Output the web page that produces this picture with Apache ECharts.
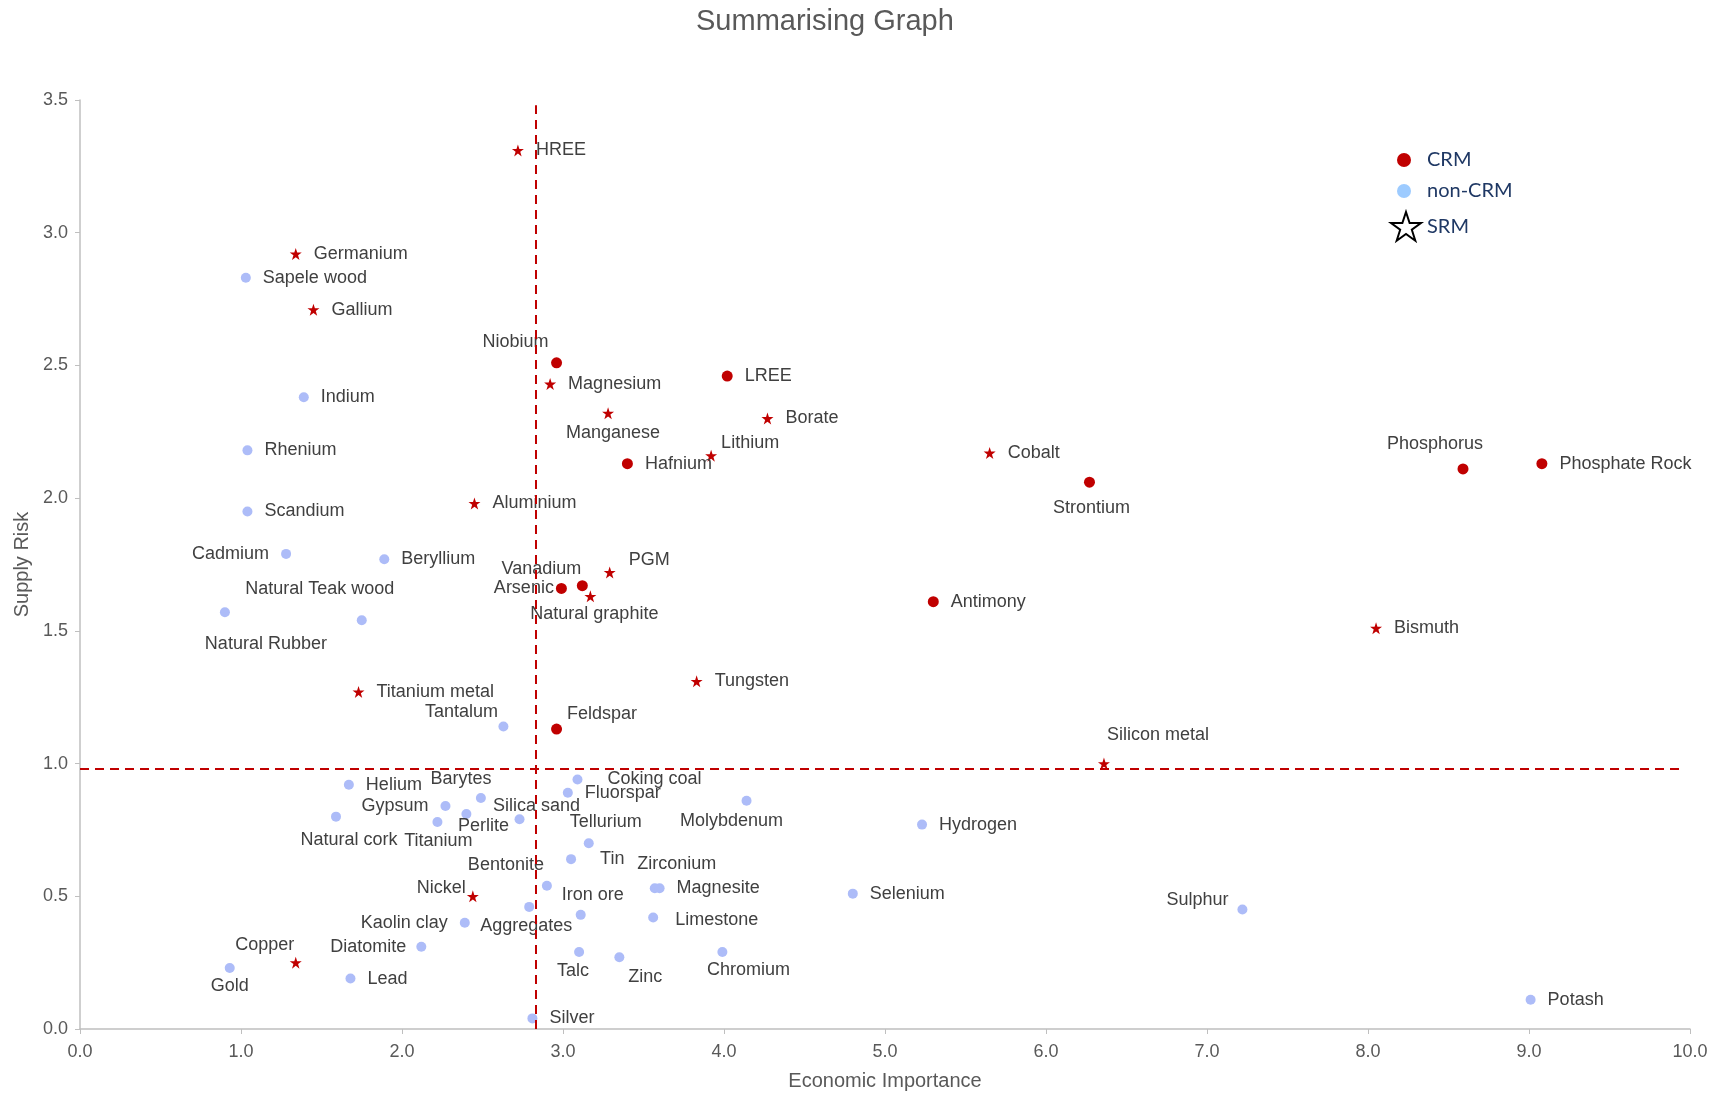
<!DOCTYPE html>
<html>
<head>
<meta charset="utf-8">
<title>Summarising Graph</title>
<script src="https://cdn.jsdelivr.net/npm/echarts@6/dist/echarts.min.js"></script>
<style>
    html, body { margin: 0; padding: 0; background: #fff; }
    #chart { width: 1726px; height: 1096px; }
</style>
</head>
<body>
<div id="chart"></div>
<script>
// CRM (red dots)
const crmNames = ['Niobium', 'LREE', 'Hafnium', 'Strontium', 'Phosphorus', 'Phosphate Rock',
    'Arsenic', 'Vanadium', 'Antimony', 'Feldspar'];
const crmEI = [2.96, 4.02, 3.40, 6.27, 8.59, 9.08, 2.99, 3.12, 5.30, 2.96];
const crmSR = [2.51, 2.46, 2.13, 2.06, 2.11, 2.13, 1.66, 1.67, 1.61, 1.13];

// SRM (red stars)
const srmNames = ['HREE', 'Germanium', 'Gallium', 'Magnesium', 'Manganese', 'Borate', 'Lithium',
    'Cobalt', 'Aluminium', 'PGM', 'Natural graphite', 'Bismuth', 'Tungsten', 'Titanium metal',
    'Silicon metal', 'Nickel', 'Copper'];
const srmEI = [2.72, 1.34, 1.45, 2.92, 3.28, 4.27, 3.92, 5.65, 2.45, 3.29, 3.17, 8.05, 3.83, 1.73, 6.36, 2.44, 1.34];
const srmSR = [3.31, 2.92, 2.71, 2.43, 2.32, 2.30, 2.16, 2.17, 1.98, 1.72, 1.63, 1.51, 1.31, 1.27, 1.00, 0.50, 0.25];

// non-CRM (light blue dots)
const nonNames = ['Sapele wood', 'Indium', 'Rhenium', 'Scandium', 'Cadmium', 'Beryllium',
    'Natural Rubber', 'Natural Teak wood', 'Tantalum', 'Helium', 'Barytes', 'Coking coal',
    'Fluorspar', 'Gypsum', 'Perlite', 'Natural cork', 'Titanium', 'Silica sand', 'Molybdenum',
    'Hydrogen', 'Tellurium', 'Tin', 'Bentonite', 'Iron ore', 'Aggregates', 'Kaolin clay',
    'Zirconium', 'Magnesite', 'Limestone', 'Selenium', 'Talc', 'Zinc', 'Chromium', 'Diatomite',
    'Gold', 'Lead', 'Silver', 'Sulphur', 'Potash'];
const nonEI = [1.03, 1.39, 1.04, 1.04, 1.28, 1.89, 0.90, 1.75, 2.63, 1.67, 2.49, 3.09, 3.03, 2.27,
    2.40, 1.59, 2.22, 2.73, 4.14, 5.23, 3.16, 3.05, 2.90, 3.11, 2.79, 2.39, 3.57, 3.60, 3.56, 4.80,
    3.10, 3.35, 3.99, 2.12, 0.93, 1.68, 2.81, 7.22, 9.01];
const nonSR = [2.83, 2.38, 2.18, 1.95, 1.79, 1.77, 1.57, 1.54, 1.14, 0.92, 0.87, 0.94, 0.89, 0.84,
    0.81, 0.80, 0.78, 0.79, 0.86, 0.77, 0.70, 0.64, 0.54, 0.43, 0.46, 0.40, 0.53, 0.53, 0.42, 0.51,
    0.29, 0.27, 0.29, 0.31, 0.23, 0.19, 0.04, 0.45, 0.11];

// threshold lines
const thresholdEI = 2.83;
const thresholdSR = 0.98;
const lineTopSR = 3.48;
const lineEndEI = 9.96;

// where each data label sits (default: right of the point)
// string = position, [dx,dy] = centred on point + offset, [pos,dx,dy] = position + offset
const labelPlace = {
    'Niobium': [-41, -21], 'Manganese': [5, 20], 'Lithium': ['right', -8, -13],
    'Phosphorus': [-28, -25], 'Strontium': [2, 26], 'Cadmium': 'left', 'PGM': ['right', 1, -12],
    'Vanadium': [-41, -17], 'Arsenic': ['left', 10, 0], 'Natural Teak wood': [-42, -31],
    'Natural graphite': [4, 18], 'Natural Rubber': [41, 32], 'Tantalum': [-42, -14],
    'Feldspar': ['right', -7, -15], 'Silicon metal': [54, -29], 'Barytes': [-20, -19],
    'Gypsum': 'left', 'Silica sand': [17, -13], 'Molybdenum': [-15, 20], 'Natural cork': [13, 23],
    'Titanium': [1, 19], 'Perlite': [17, 12], 'Tellurium': [17, -21], 'Bentonite': [-41, -21],
    'Tin': ['right', 12, 0], 'Zirconium': [22, -24], 'Nickel': ['left', 11, -8],
    'Iron ore': [12, -20], 'Sulphur': ['left', 3, -10], 'Kaolin clay': 'left', 'Aggregates': [-3, 19],
    'Copper': [-31, -18], 'Diatomite': ['left', 2, 0], 'Talc': [-6, 19], 'Chromium': [26, 18],
    'Zinc': [26, 20], 'Gold': [0, 18], 'Limestone': ['right', 5, 3], 'Coking coal': ['right', 13, 0]
};

const starPath = 'path://M12,0 L14.8,8.5 L23.6,8.5 L16.5,13.7 L19.2,22.2 L12,17 L4.8,22.2 L7.5,13.7 L0.4,8.5 L9.2,8.5 Z';
const fontFamily = '"Liberation Sans", Arial, sans-serif';

function makeData(names, xs, ys) {
    return names.map(function (n, i) {
        let item = { value: [xs[i], ys[i], n] };
        let p = labelPlace[n];
        if (typeof p === 'string') {
            item.label = { position: p };
        } else if (p && p.length === 2) {
            item.label = { position: 'inside', offset: p };
        } else if (p && p.length === 3) {
            item.label = { position: p[0], offset: [p[1], p[2]] };
        }
        return item;
    });
}

const labelStyle = {
    show: true,
    position: 'right',
    distance: 12,
    formatter: function (p) { return p.data.value[2]; },
    color: '#404040',
    fontSize: 18,
    fontFamily: fontFamily
};

const legendText = { color: '#1F3864', fontSize: 20, fontFamily: 'Lato, sans-serif' };

let myChart = echarts.init(document.getElementById('chart'));
myChart.setOption({
    animation: false,
    title: {
        text: 'Summarising Graph',
        left: 691,
        top: 2,
        textStyle: { color: '#595959', fontSize: 29, fontWeight: 'normal', fontFamily: fontFamily }
    },
    legend: [
        {
            data: [{ name: 'CRM', icon: 'circle' }],
            left: 1392, top: 145, itemWidth: 14, itemHeight: 15, selectedMode: false,
            textStyle: Object.assign({ padding: [0, 0, 0, 11] }, legendText)
        },
        {
            data: [{ name: 'non-CRM', icon: 'circle', itemStyle: { color: '#9DCBFF' } }],
            left: 1392, top: 176, itemWidth: 14, itemHeight: 15, selectedMode: false,
            textStyle: Object.assign({ padding: [0, 0, 0, 11] }, legendText)
        },
        {
            data: [{ name: 'SRM', icon: starPath, itemStyle: { color: '#ffffff', borderColor: '#000000', borderWidth: 2 } }],
            left: 1385, top: 206, itemWidth: 30, itemHeight: 30, selectedMode: false,
            textStyle: Object.assign({ padding: [0, 0, 0, 1] }, legendText)
        }
    ],
    grid: { left: 80, right: 36, top: 100, bottom: 65 },
    xAxis: {
        type: 'value',
        min: 0, max: 10, interval: 1,
        name: 'Economic Importance',
        nameLocation: 'middle',
        nameGap: 42,
        nameTextStyle: { color: '#595959', fontSize: 20, fontFamily: fontFamily },
        splitLine: { show: false },
        axisLine: { show: true, lineStyle: { color: '#BFBFBF', width: 1.5 } },
        axisTick: { show: true, length: 5, lineStyle: { color: '#BFBFBF' } },
        axisLabel: {
            color: '#595959', fontSize: 18, fontFamily: fontFamily, margin: 14,
            formatter: function (v) { return v.toFixed(1); }
        }
    },
    yAxis: {
        type: 'value',
        min: 0, max: 3.5, interval: 0.5,
        name: 'Supply Risk',
        nameLocation: 'middle',
        nameGap: 48,
        nameTextStyle: { color: '#595959', fontSize: 20, fontFamily: fontFamily },
        splitLine: { show: false },
        axisLine: { show: true, lineStyle: { color: '#BFBFBF', width: 1.5 } },
        axisTick: { show: true, length: 5, lineStyle: { color: '#BFBFBF' } },
        axisLabel: {
            color: '#595959', fontSize: 18, fontFamily: fontFamily, margin: 12,
            formatter: function (v) { return v.toFixed(1); }
        }
    },
    series: [
        {
            name: 'non-CRM',
            type: 'scatter',
            symbol: 'circle',
            symbolSize: 10,
            itemStyle: { color: '#ADBCF8', opacity: 1 },
            label: labelStyle,
            data: makeData(nonNames, nonEI, nonSR)
        },
        {
            name: 'CRM',
            type: 'scatter',
            symbol: 'circle',
            symbolSize: 11,
            itemStyle: { color: '#C00000', opacity: 1 },
            label: labelStyle,
            data: makeData(crmNames, crmEI, crmSR),
            markLine: {
                silent: true,
                symbol: 'none',
                label: { show: false },
                lineStyle: { color: '#C00000', type: [9, 6], width: 2 },
                data: [
                    [{ coord: [thresholdEI, 0] }, { coord: [thresholdEI, lineTopSR] }],
                    [{ coord: [0, thresholdSR] }, { coord: [lineEndEI, thresholdSR] }]
                ]
            }
        },
        {
            name: 'SRM',
            type: 'scatter',
            symbol: starPath,
            symbolSize: 12,
            itemStyle: { color: '#C00000', opacity: 1 },
            label: labelStyle,
            data: makeData(srmNames, srmEI, srmSR)
        }
    ]
});
</script>
</body>
</html>
